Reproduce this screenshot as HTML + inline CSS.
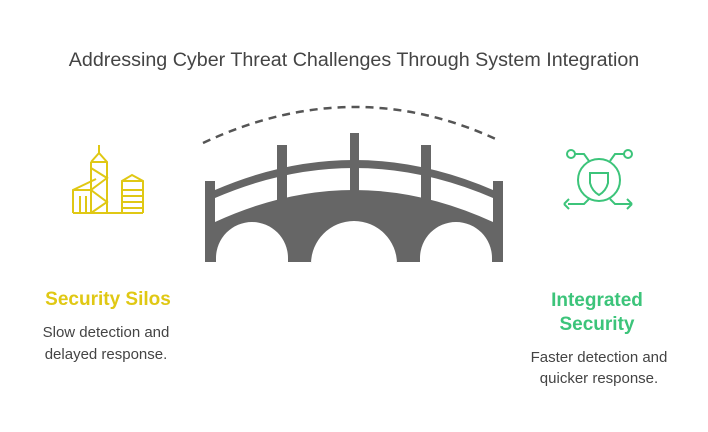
<!DOCTYPE html>
<html><head><style>
body{margin:0;width:708px;height:432px;background:#fff;font-family:"Liberation Sans",sans-serif;position:relative;overflow:hidden}
.t{position:absolute;white-space:nowrap;text-align:center}
</style></head><body>
<div class="t" style="left:0;width:708px;top:49px;font-size:19.7px;color:#444">Addressing Cyber Threat Challenges Through System Integration</div>
<svg width="708" height="432" style="position:absolute;left:0;top:0">
<path d="M203,143 Q354,72 500,141" fill="none" stroke="#555" stroke-width="2.5" stroke-dasharray="8,6"/>
<g fill="#666">
<rect x="205" y="181" width="10" height="81"/>
<rect x="493" y="181" width="10" height="81"/>
<rect x="350" y="133" width="9" height="60"/>
<rect x="277" y="145" width="10" height="55"/>
<rect x="421" y="145" width="10" height="55"/>
<path d="M215,190 Q354,130 493,190 L493,198 Q354,138 215,198Z"/>
<path d="M215,222 Q354,158 493,222 L493,262 L492,262 L492,258 A36,36 0 0 0 420,258 L420,262 L397,262 L397,264 A43,43 0 0 0 311,264 L311,262 L288,262 L288,258 A36,36 0 0 0 216,258 L216,262 L215,262Z"/>
</g>
<g fill="none" stroke="#e0c814" stroke-width="2">
<path d="M99,145 V153 M91,162 L99,153 L107,162 V213 M91,162 V213 M91,162 H107 M91,168 L107,178 L91,190 L107,202 L91,213"/>
<path d="M73,213 V190 L96,179 M73,190 H91 M80,196 V213 M86,196 V213 M73,213 H143"/>
<path d="M122,213 V181 L132,175 L143,181 V213 M122,181 H143 M122,190 H143 M122,196 H143 M122,202 H143 M122,208 H143"/>
</g>
<g fill="none" stroke="#3cc47a" stroke-width="2">
<circle cx="599" cy="180" r="21"/>
<path d="M590,173 H608 V183 Q606,191 599,195 Q592,191 590,183Z"/>
<circle cx="571" cy="154" r="4"/><circle cx="628" cy="154" r="4"/>
<path d="M575,154 H584 L589,161 M624,154 H615 L610,161 M589,199 L584,204 H568 M564,204 L569,199 M564,204 L569,209 M610,199 L615,204 H632 M632,204 L627,199 M632,204 L627,209"/>
</g>
</svg>
<div class="t" style="left:28px;width:160px;top:289px;font-size:19px;font-weight:bold;color:#e0c814">Security Silos</div>
<div class="t" style="left:26px;width:160px;top:322px;font-size:15px;color:#444;line-height:22px">Slow detection and<br>delayed response.</div>
<div class="t" style="left:517px;width:160px;top:289px;font-size:19px;font-weight:bold;color:#3cc47a;line-height:24px">Integrated<br>Security</div>
<div class="t" style="left:519px;width:160px;top:347px;font-size:15px;color:#444;line-height:21px">Faster detection and<br>quicker response.</div>
</body></html>
